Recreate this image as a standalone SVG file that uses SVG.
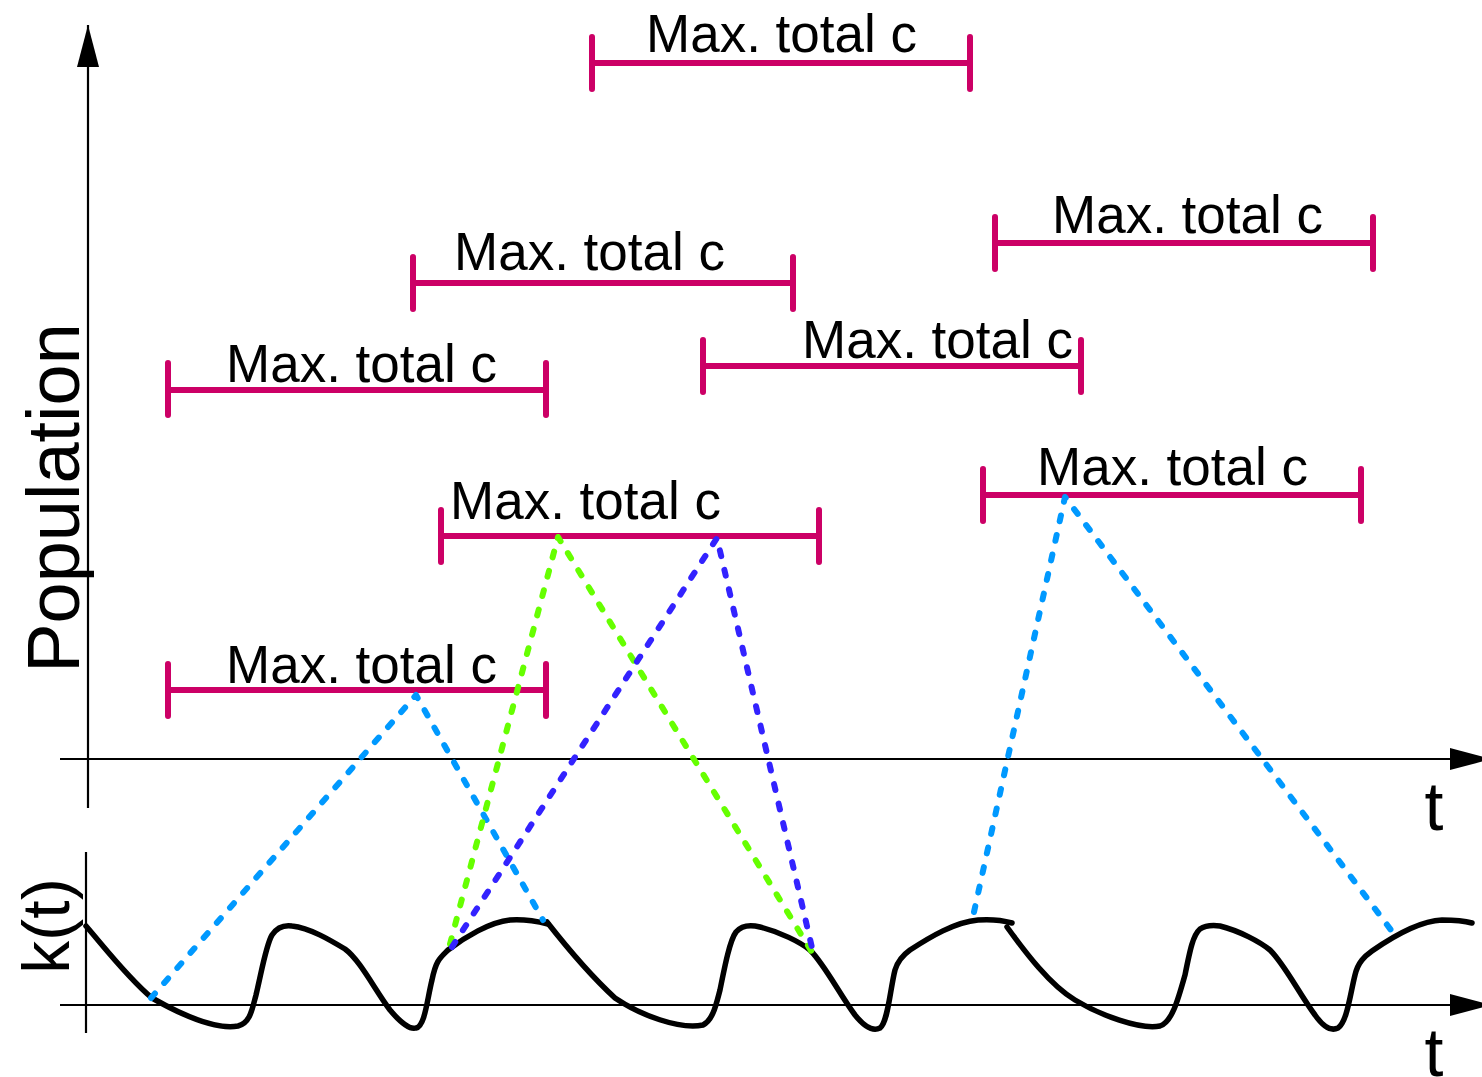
<svg xmlns="http://www.w3.org/2000/svg" width="1482" height="1077" viewBox="0 0 1482 1077">
  <style>
    .axis { stroke: #000; stroke-width: 2.2; fill: none; }
    .lbl { font-family: "Liberation Sans", Arial, sans-serif; fill: #000; }
    .cap { font-size: 53px; }
    .bar { stroke: #CC0066; stroke-width: 6; stroke-linecap: round; fill: none; }
    .dot { stroke-width: 6; stroke-linecap: round; stroke-linejoin: round; stroke-dasharray: 6 14; fill: none; }
    .lb { stroke: #0099FF; }
    .gr { stroke: #66FF00; }
    .bl { stroke: #3322FF; }
    .kt { stroke: #000; stroke-width: 5.5; stroke-linecap: round; stroke-linejoin: round; fill: none; }
  </style>
  <defs>
    <marker id="arrow" markerUnits="userSpaceOnUse" markerWidth="42" markerHeight="22" refX="42" refY="11" orient="auto">
      <path d="M0,0 L42,11 L0,22 z" fill="#000"/>
    </marker>
  </defs>
  <rect width="1482" height="1077" fill="#fff"/>

  <!-- axes -->
  <g id="axes">
    <line class="axis" x1="88" y1="808" x2="88" y2="25" marker-end="url(#arrow)"/>
    <line class="axis" x1="60" y1="759" x2="1492" y2="759" marker-end="url(#arrow)"/>
    <line class="axis" x1="86" y1="852" x2="86" y2="1033"/>
    <line class="axis" x1="60" y1="1005" x2="1492" y2="1005" marker-end="url(#arrow)"/>
    <text class="lbl" font-size="74" text-anchor="middle" transform="translate(79,498) rotate(-90)">Population</text>
    <text class="lbl" font-size="66" text-anchor="middle" transform="translate(69,926) rotate(-90)">k(t)</text>
    <text class="lbl" font-size="68" text-anchor="middle" x="1434" y="830">t</text>
    <text class="lbl" font-size="68" text-anchor="middle" x="1434" y="1076">t</text>
  </g>

  <!-- k(t) curve -->
  <g id="k-curve">
    <path class="kt" d="M86,926 C105,948 128,978 152,998 C180,1014 215,1030 238,1026 C250,1023 252,1010 256,995 C262,970 266,945 272,935 C278,926 285,925 292,926 C310,928 330,940 345,949 C360,960 375,990 390,1010 C400,1022 410,1030 416,1028 C425,1026 427,1000 432,980 C436,960 440,958 448,950 C465,937 490,922 510,920 C525,919 540,922 548,924"/>
    <path class="kt" d="M547,922 C565,945 590,975 615,998 C640,1015 680,1030 703,1025 C713,1020 716,1005 720,990 C725,965 730,940 736,932 C742,925 752,925 760,927 C780,932 800,942 810,950 C825,965 840,995 855,1015 C863,1025 872,1032 880,1028 C888,1022 890,990 895,970 C898,960 903,955 910,950 C930,937 955,922 978,920 C992,919 1005,921 1012,923"/>
    <path class="kt" d="M1007,927 C1025,952 1050,985 1075,1000 C1100,1015 1140,1030 1160,1026 C1172,1022 1178,1000 1185,975 C1190,950 1193,935 1200,929 C1206,925 1212,925 1220,926 C1240,931 1260,942 1270,950 C1285,965 1300,995 1315,1015 C1322,1025 1330,1032 1338,1028 C1347,1022 1350,995 1355,975 C1358,962 1365,956 1372,951 C1395,935 1420,921 1442,920 C1455,920 1465,921 1472,923"/>
  </g>

  <!-- interval bars -->
  <g id="interval-1"><path class="bar" d="M592,37 V89 M592,63 H970 M970,37 V89"/><text class="lbl cap" x="646" y="52">Max. total c</text></g>
  <g id="interval-2"><path class="bar" d="M995,217 V269 M995,243 H1373 M1373,217 V269"/><text class="lbl cap" x="1052" y="233">Max. total c</text></g>
  <g id="interval-3"><path class="bar" d="M413,257 V309 M413,283 H793 M793,257 V309"/><text class="lbl cap" x="454" y="270">Max. total c</text></g>
  <g id="interval-4"><path class="bar" d="M168,363 V415 M168,390 H546 M546,363 V415"/><text class="lbl cap" x="226" y="382">Max. total c</text></g>
  <g id="interval-5"><path class="bar" d="M703,340 V392 M703,366 H1081 M1081,340 V392"/><text class="lbl cap" x="802" y="358">Max. total c</text></g>
  <g id="interval-6"><path class="bar" d="M983,469 V521 M983,495 H1361 M1361,469 V521"/><text class="lbl cap" x="1037" y="485">Max. total c</text></g>
  <g id="interval-7"><path class="bar" d="M441,510 V562 M441,536 H819 M819,510 V562"/><text class="lbl cap" x="450" y="519">Max. total c</text></g>
  <g id="interval-8"><path class="bar" d="M168,664 V716 M168,690 H546 M546,664 V716"/><text class="lbl cap" x="226" y="683">Max. total c</text></g>

  <!-- dotted connectors from k(t) to interval maxima -->
  <g id="connectors">
    <polyline class="dot lb" points="151,998 416,695 543,920"/>
    <polyline class="dot gr" points="450,944 558,537 818,962"/>
    <polyline class="dot bl" points="452,947 717,538 813,952"/>
    <polyline class="dot lb" points="974,912 1065,497 1397,938"/>
  </g>
</svg>
